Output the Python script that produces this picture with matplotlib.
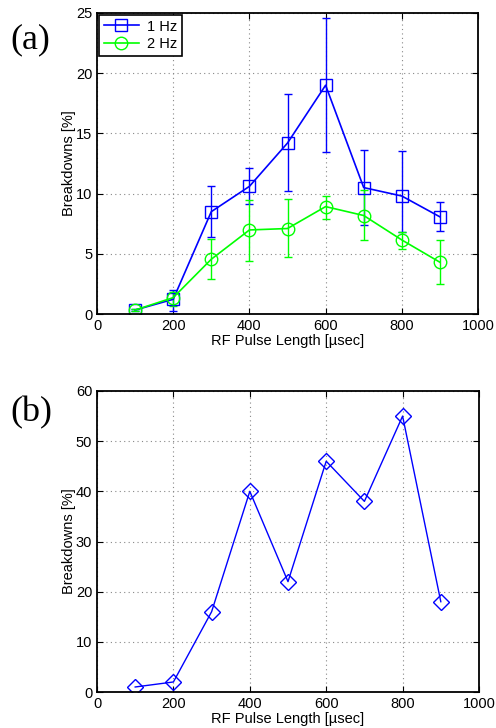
import matplotlib
matplotlib.use("Agg")
import matplotlib.pyplot as plt
from matplotlib.lines import Line2D
import numpy as np

pulse_length = [100, 200, 300, 400, 500, 600, 700, 800, 900]

hz1_mean = [0.33, 1.22, 8.5, 10.6, 14.2, 19.0, 10.5, 9.8, 8.07]
hz1_low = [0.25, 0.28, 6.37, 9.15, 10.2, 13.44, 7.4, 6.8, 6.9]
hz1_high = [0.42, 2.0, 10.67, 12.14, 18.24, 24.56, 13.64, 13.5, 9.31]

hz2_mean = [0.33, 1.36, 4.55, 6.98, 7.1, 8.92, 8.18, 6.15, 4.3]
hz2_low = [0.25, 0.7, 2.88, 4.43, 4.71, 7.93, 6.15, 5.38, 2.49]
hz2_high = [0.42, 1.8, 6.2, 9.48, 9.56, 9.84, 10.3, 6.85, 6.15]

single_vals = [1, 2, 16, 40, 22, 46, 38, 55, 18]

legend_labels = ["1 Hz", "2 Hz"]
xlabel = "RF Pulse Length [\u00b5sec]"
ylabel = "Breakdowns [%]"

plt.rcParams['font.family'] = ['Liberation Sans', 'DejaVu Sans']

fig = plt.figure(figsize=(4.96, 7.28), dpi=100)
W, H = 496, 728
ax1 = fig.add_axes([97/W, 1-314/H, (478-97)/W, (314-13)/H])
ax2 = fig.add_axes([97/W, 1-692/H, (479-97)/W, (692-391)/H])

def style(ax):
    ax.set_xlim(0, 1000)
    ax.set_xticks(np.arange(0, 1001, 200))
    ax.grid(True, linestyle=(0, (1, 3)), color='#888888', linewidth=0.8)
    ax.tick_params(direction='in', top=True, right=True, labelsize=10.5, length=4, width=0.8)
    for s in ax.spines.values():
        s.set_linewidth(1.3)
        s.set_color('black')
    ax.set_xlabel(xlabel, fontsize=10.5, labelpad=1)
    ax.set_ylabel(ylabel, fontsize=10.5, labelpad=0)

x = np.array(pulse_length)
m1 = np.array(hz1_mean)
m2 = np.array(hz2_mean)
e1 = [m1 - np.array(hz1_low), np.array(hz1_high) - m1]
e2 = [m2 - np.array(hz2_low), np.array(hz2_high) - m2]

ax1.errorbar(x, m1, yerr=e1, color='#0000ff', marker='s', markersize=8, mfc='none',
             mew=1.0, lw=1.2, capsize=3, elinewidth=1.0)
ax1.errorbar(x, m2, yerr=e2, color='#00ff00', marker='o', markersize=9, mfc='none',
             mew=1.0, lw=1.2, capsize=3, elinewidth=1.0)
ax1.set_ylim(0, 25)
ax1.set_yticks(np.arange(0, 26, 5))
style(ax1)
handles = [
    Line2D([], [], color='#0000ff', marker='s', markersize=8, mfc='none', mew=1.0, lw=1.2),
    Line2D([], [], color='#00ff00', marker='o', markersize=9, mfc='none', mew=1.0, lw=1.2),
]
leg = ax1.legend(handles, legend_labels, loc='upper left', fontsize=10.5, frameon=True,
                 fancybox=False, edgecolor='black', borderaxespad=0.15, handlelength=2.4,
                 borderpad=0.3, labelspacing=0.25, handletextpad=0.6)
leg.get_frame().set_linewidth(1.2)
leg.get_frame().set_alpha(1)

ax2.plot(x, single_vals, color='#0000ff', marker='D', markersize=8.5, mfc='none', mew=1.0, lw=1.0)
ax2.set_ylim(0, 60)
ax2.set_yticks(np.arange(0, 61, 10))
style(ax2)

fig.text(10/W, 1-40/H, "(a)", fontsize=26, family=['Liberation Serif'], va='center', ha='left')
fig.text(10/W, 1-413/H, "(b)", fontsize=26, family=['Liberation Serif'], va='center', ha='left')

fig.savefig("out.png", dpi=100)
